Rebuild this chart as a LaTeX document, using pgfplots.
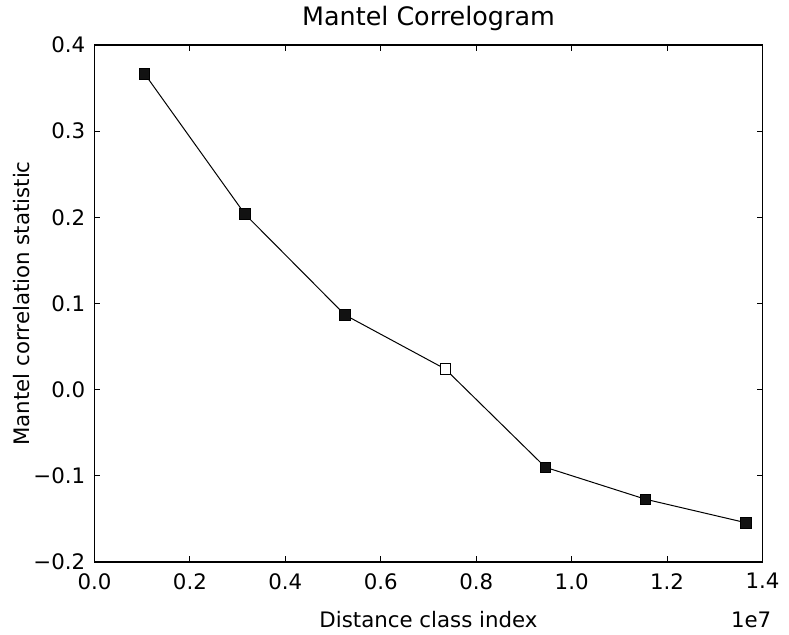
\documentclass[border=0pt]{standalone}
\usepackage{pgfplots}
\pgfplotsset{compat=1.18}
\usepackage{fontspec}
\setmainfont{DejaVu Sans}
\begin{document}
\fontsize{21.4}{25}\selectfont
\begin{tikzpicture}
\begin{axis}[name=ax, scale only axis, width=668bp, height=517bp,
  xmin=0, xmax=1.4e7, ymin=-0.2, ymax=0.4,
  scaled x ticks=false, scaled y ticks=false,
  xtick={0,2000000,4000000,6000000,8000000,10000000,12000000,14000000},
  xticklabels={0.0,0.2,0.4,0.6,0.8,1.0,1.2,1.4},
  ytick={-0.2,-0.1,0,0.1,0.2,0.3,0.4},
  yticklabels={−0.2,−0.1,0.0,0.1,0.2,0.3,0.4},
  tick align=inside, major tick length=6bp,
  tick style={black, line width=0.9bp},
  axis line style={black, line width=1.1bp},
  xticklabel style={yshift=-4bp},
  yticklabel style={xshift=-2bp},
  title={\fontsize{25.5}{30}\selectfont Mantel Correlogram},
  title style={at={(axis description cs:0.5,1)}, anchor=base, yshift=14bp},
  xlabel={Distance class index},
  xlabel style={at={(axis description cs:0.5,0)}, anchor=base, yshift=-66bp},
  ylabel={Mantel correlation statistic},
  ylabel style={at={(axis description cs:-0.1085,0.5)}, anchor=center},
]
\addplot[black, line width=1bp, mark=square*, mark size=5.2bp,
  mark options={fill=black!93, draw=black, line width=0.8bp}]
  coordinates {
  (1050000,0.3666) (3150000,0.2039) (5250000,0.0867) (7350000,0.0240)
  (9450000,-0.0901) (11550000,-0.1272) (13650000,-0.1544)};
\addplot[only marks, mark=square*, mark size=5.2bp,
  mark options={fill=white, draw=black, line width=1bp}]
  coordinates {(7350000,0.0240)};
\end{axis}
\node[anchor=base east, inner sep=0pt] at ([xshift=9bp,yshift=-66bp]ax.south east) {1e7};
\pgfresetboundingbox
\path[use as bounding box] ([xshift=-94.5bp,yshift=-73bp]ax.south west) rectangle ([xshift=26.5bp,yshift=45bp]ax.north east);
\end{tikzpicture}
\end{document}
